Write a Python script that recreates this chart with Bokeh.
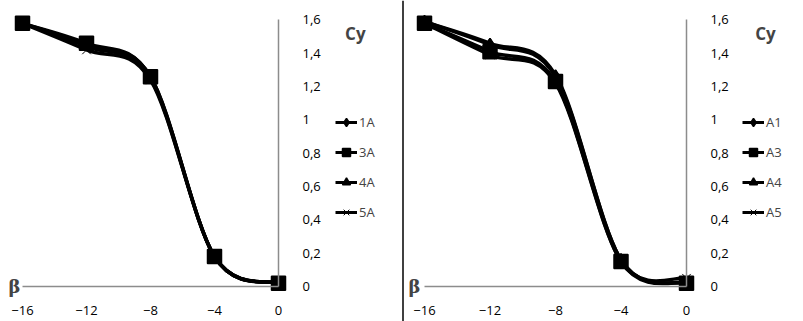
from bokeh.plotting import figure
from bokeh.layouts import row
from bokeh.models import (Range1d, LinearAxis, FixedTicker, CustomJSTickFormatter,
                          Legend, LegendItem, Label, Span)
from bokeh.embed import file_html
from bokeh.resources import INLINE

# ---------------- data ----------------
beta = [-16, -12, -8, -4, 0]
x_ticks = [-16, -12, -8, -4, 0]
y_ticks = [0, 0.2, 0.4, 0.6, 0.8, 1.0, 1.2, 1.4, 1.6]

left_names = ["1A", "3A", "4A", "5A"]
left_1A = [1.58, 1.45, 1.26, 0.18, 0.02]
left_3A = [1.58, 1.46, 1.26, 0.18, 0.02]
left_4A = [1.58, 1.44, 1.25, 0.18, 0.02]
left_5A = [1.58, 1.42, 1.24, 0.18, 0.02]

right_names = ["A1", "A3", "A4", "A5"]
right_A1 = [1.59, 1.46, 1.27, 0.16, 0.02]
right_A3 = [1.58, 1.41, 1.23, 0.15, 0.02]
right_A4 = [1.59, 1.45, 1.26, 0.16, 0.02]
right_A5 = [1.58, 1.39, 1.22, 0.15, 0.05]

markers = ["diamond", "square", "triangle", "x"]
marker_sizes = [10, 14, 11, 12]
marker_lw = [1.5, 1.5, 1.5, 1.0]

FONT = "Open Sans"
NAN = float("nan")


def smooth_segments(xs, ys):
    """Catmull-Rom style smoothing as cubic Bezier segments (like Excel smoothed lines)."""
    n = len(xs)
    pts = list(zip(xs, ys))
    out = {k: [] for k in ("x0", "y0", "x1", "y1", "cx0", "cy0", "cx1", "cy1")}
    for i in range(n - 1):
        p0 = pts[i - 1] if i > 0 else pts[i]
        p1 = pts[i]
        p2 = pts[i + 1]
        p3 = pts[i + 2] if i + 2 < n else pts[i + 1]
        out["x0"].append(p1[0]); out["y0"].append(p1[1])
        out["x1"].append(p2[0]); out["y1"].append(p2[1])
        out["cx0"].append(p1[0] + (p2[0] - p0[0]) / 6.0)
        out["cy0"].append(p1[1] + (p2[1] - p0[1]) / 6.0)
        out["cx1"].append(p2[0] - (p3[0] - p1[0]) / 6.0)
        out["cy1"].append(p2[1] - (p3[1] - p1[1]) / 6.0)
    return out


def panel(width, x_start, x_end, series, names, cy_x, beta_x, legend_x, separator=False):
    p = figure(width=width, height=321,
               x_range=Range1d(x_start, x_end), y_range=Range1d(-0.210, 1.717),
               output_backend="svg", toolbar_location=None,
               x_axis_type=None, y_axis_type=None, min_border=0)
    p.outline_line_color = None
    p.background_fill_color = "white"
    p.border_fill_color = "white"

    xaxis = LinearAxis(fixed_location=0, bounds=(-16, 0),
                       ticker=FixedTicker(ticks=x_ticks),
                       axis_line_color="#8c8c8c", axis_line_width=1.5,
                       major_tick_line_color=None, minor_tick_line_color=None,
                       major_label_standoff=13,
                       major_label_text_font=FONT, major_label_text_font_size="13px",
                       major_label_text_color="black")
    p.add_layout(xaxis, "below")

    yaxis = LinearAxis(fixed_location=0, bounds=(0, 1.6),
                       ticker=FixedTicker(ticks=y_ticks),
                       formatter=CustomJSTickFormatter(code="""
                           var s = tick.toFixed(1).replace('.', ',');
                           if (s.endsWith(',0')) { s = s.slice(0, -2); }
                           return s;"""),
                       axis_line_color="#8c8c8c", axis_line_width=1.5,
                       major_tick_line_color=None, minor_tick_line_color=None,
                       major_label_standoff=18,
                       major_label_text_font=FONT, major_label_text_font_size="13px",
                       major_label_text_color="black")
    p.add_layout(yaxis, "right")

    items = []
    for ys, name, mk, ms, mlw in zip(series, names, markers, marker_sizes, marker_lw):
        seg = smooth_segments(beta, ys)
        p.bezier(x0=seg["x0"], y0=seg["y0"], x1=seg["x1"], y1=seg["y1"],
                 cx0=seg["cx0"], cy0=seg["cy0"], cx1=seg["cx1"], cy1=seg["cy1"],
                 line_color="black", line_width=3.5)
        # line renderer with no drawable point, used only for the legend swatch
        r_leg = p.line(x=[NAN], y=[NAN], line_color="black", line_width=3)
        r_mk = p.scatter(beta, ys, marker=mk, size=ms, fill_color="black",
                         line_color="black", line_width=mlw)
        items.append(LegendItem(label=name, renderers=[r_leg, r_mk]))

    legend = Legend(items=items, location=(legend_x, 99), padding=0, margin=0,
                    spacing=10, glyph_width=22, glyph_height=20, label_standoff=2,
                    label_text_font=FONT, label_text_font_size="13px",
                    background_fill_alpha=0, border_line_color=None)
    p.add_layout(legend, "center")

    p.add_layout(Label(x=cy_x, y=1.52, text="Cy", text_font=FONT, text_font_style="bold",
                       text_font_size="17px", text_align="center", text_baseline="middle"))
    p.add_layout(Label(x=beta_x, y=0.0, text="β", text_font="DejaVu Serif",
                       text_font_style="bold", text_font_size="18px",
                       text_align="center", text_baseline="middle"))
    if separator:
        p.add_layout(Span(location=1.5, location_units="screen", dimension="height",
                          line_color="black", line_width=1.5))
    return p


left = panel(401, -17.375, 7.6875, [left_1A, left_3A, left_4A, left_5A], left_names,
             cy_x=4.8, beta_x=-16.5, legend_x=335)
right = panel(402, -17.405, 7.145, [right_A1, right_A3, right_A4, right_A5], right_names,
              cy_x=4.82, beta_x=-16.61, legend_x=341, separator=True)

layout = row(left, right, spacing=0)
open("out.html", "w").write(file_html(layout, INLINE))
